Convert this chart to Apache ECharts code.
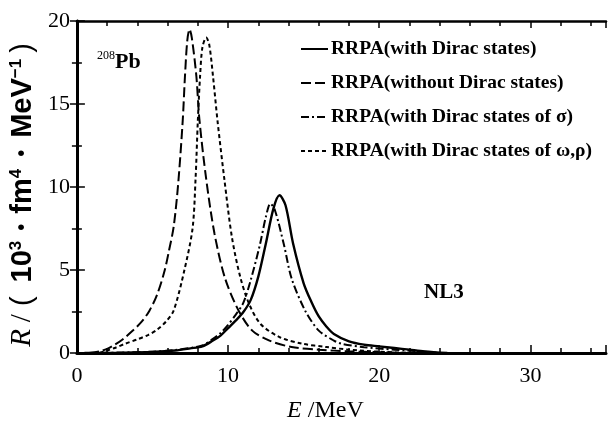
<!DOCTYPE html>
<html><head><meta charset="utf-8">
<script src="https://cdn.jsdelivr.net/npm/echarts@6/dist/echarts.min.js"></script>
<style>html,body{margin:0;padding:0;background:#fff}#c{width:610px;height:428px}</style>
</head><body><div id="c"></div>
<script>
// ---- data ----
const seriesNames = [
  'RRPA(with Dirac states)',
  'RRPA(without Dirac states)',
  'RRPA(with Dirac states of σ)',
  'RRPA(with Dirac states of ω,ρ)'
];
const withDiracE = [0.5, 3, 5, 6.5, 7.5, 8.3, 9, 9.5, 10, 10.5, 11, 11.5, 12, 12.5, 13, 13.4, 13.8, 14.3, 15, 15.5, 16, 16.5, 17, 18, 19, 20, 21, 22, 23, 24.5];
const withDiracR = [0, 0.02, 0.06, 0.15, 0.28, 0.4, 0.75, 1.05, 1.5, 1.95, 2.45, 3.2, 4.6, 6.6, 8.7, 9.5, 8.9, 6.6, 4.2, 3.1, 2.2, 1.6, 1.15, 0.7, 0.5, 0.4, 0.3, 0.2, 0.1, 0];
const withoutDiracE = [0.8, 1.5, 2, 2.5, 3, 3.7, 4.3, 4.8, 5.3, 5.8, 6.1, 6.4, 6.7, 7.0, 7.15, 7.3, 7.45, 7.6, 7.9, 8.1, 8.55, 9.1, 9.8, 10.7, 11.6, 12.7, 14.2, 16, 18, 20, 22];
const withoutDiracR = [0, 0.1, 0.25, 0.5, 0.8, 1.35, 1.9, 2.55, 3.5, 4.95, 6.2, 7.6, 10.2, 14.0, 16.7, 18.8, 19.5, 19.0, 16.7, 14.1, 10.5, 7.2, 4.5, 2.55, 1.35, 0.76, 0.36, 0.2, 0.1, 0.05, 0];
const sigmaE = [0.5, 3, 5, 6.5, 7.5, 8.3, 9, 9.5, 10, 10.5, 11, 11.5, 12.1, 12.5, 12.8, 13.1, 13.7, 14.2, 15.1, 16, 17, 17.5, 19, 21, 23, 24];
const sigmaR = [0, 0.03, 0.08, 0.18, 0.3, 0.45, 0.85, 1.2, 1.7, 2.3, 3.0, 4.4, 6.5, 8.2, 9.0, 8.6, 6.5, 4.5, 2.55, 1.35, 0.75, 0.56, 0.35, 0.2, 0.08, 0];
const omegaRhoE = [1.5, 2, 2.5, 3.2, 4, 4.7, 5.3, 5.9, 6.4, 7.1, 7.65, 7.85, 8.0, 8.15, 8.3, 8.55, 8.75, 9.0, 9.3, 9.75, 10.25, 10.8, 11.4, 12.15, 13.4, 14.9, 16.5, 18, 20, 22];
const omegaRhoR = [0, 0.15, 0.3, 0.56, 0.82, 1.08, 1.4, 1.9, 2.55, 4.95, 7.5, 10.5, 14.0, 16.7, 18.4, 19.0, 18.6, 16.7, 14.0, 10.5, 7.0, 4.6, 2.94, 1.75, 0.96, 0.56, 0.36, 0.2, 0.08, 0];
const xTickLabels = [0, 10, 20, 30];
const yTickLabels = [0, 5, 10, 15, 20];

// ---- chart ----
const pairs = (xs, ys) => xs.map((x, i) => [x, ys[i]]);
const SERIF = '"Liberation Serif", "Times New Roman", serif';
const SANS = '"Liberation Sans", Arial, sans-serif';
const chart = echarts.init(document.getElementById('c'), null, {renderer: 'canvas'});

const tickStyle = {color: '#000', width: 1.5};
const xBase = {type: 'value', min: 0, max: 35, splitLine: {show: false}};
const yBase = {type: 'value', min: 0, max: 20, interval: 5, splitLine: {show: false}};

const lineTypes = ['solid', [10, 4], [8, 3, 2, 3], [4, 3]];
const dataSets = [
  pairs(withDiracE, withDiracR),
  pairs(withoutDiracE, withoutDiracR),
  pairs(sigmaE, sigmaR),
  pairs(omegaRhoE, omegaRhoR)
];

const yn = {fontFamily: SANS, fontWeight: 'bold', fontSize: 29, color: '#000'};
const ysup = {fontFamily: SANS, fontWeight: 'bold', fontSize: 17, color: '#000', verticalAlign: 'top'};

chart.setOption({
  backgroundColor: '#fff',
  animation: false,
  grid: {left: 73, right: 4, top: 21, bottom: 72, containLabel: false},
  legend: {
    data: seriesNames,
    orient: 'vertical',
    left: 295, top: 34,
    itemWidth: 27, itemHeight: 10, itemGap: 14,
    itemStyle: {opacity: 0},
    textStyle: {fontFamily: SERIF, fontSize: 19.5, fontWeight: 'bold', color: '#000', lineHeight: 20, padding: [0, 0, 0, -2]}
  },
  xAxis: [
    Object.assign({}, xBase, {
      position: 'bottom', interval: 2,
      axisLine: {lineStyle: {color: '#000', width: 3}},
      axisTick: {inside: true, length: 5, lineStyle: tickStyle},
      axisLabel: {formatter: v => xTickLabels.includes(v) ? String(v) : '', fontFamily: SERIF, fontSize: 22, color: '#000', margin: 12},
      name: '{i|E}{n| /MeV}', nameLocation: 'middle', nameGap: 46,
      nameTextStyle: {padding: [0, 32, 0, 0], rich: {
        i: {fontFamily: SERIF, fontStyle: 'italic', fontSize: 24, color: '#000'},
        n: {fontFamily: SERIF, fontSize: 24, color: '#000'}
      }}
    }),
    Object.assign({}, xBase, {
      position: 'bottom', interval: 10,
      axisLine: {show: false},
      axisTick: {inside: true, length: 8, lineStyle: tickStyle},
      axisLabel: {show: false}
    }),
    Object.assign({}, xBase, {
      position: 'top', interval: 2,
      axisLine: {lineStyle: {color: '#000', width: 2.5}},
      axisTick: {inside: true, length: 5, lineStyle: tickStyle},
      axisLabel: {show: false}
    }),
    Object.assign({}, xBase, {
      position: 'top', interval: 10,
      axisLine: {show: false},
      axisTick: {inside: true, length: 7, lineStyle: tickStyle},
      axisLabel: {show: false}
    })
  ],
  yAxis: [
    Object.assign({}, yBase, {
      position: 'left',
      axisLine: {lineStyle: {color: '#000', width: 3}},
      axisTick: {inside: true, length: 8, lineStyle: tickStyle},
      minorTick: {show: true, splitNumber: 2, length: 5, lineStyle: tickStyle},
      axisLabel: {formatter: v => yTickLabels.includes(v) ? String(v) : '', fontFamily: SERIF, fontSize: 22, color: '#000', margin: 7},
      name: '{i|R}{sl|/}{p|(}{n|10}{s|3}{d1|•}{n|fm}{s|4}{d2|•}{n|MeV}{s|−1}{q|)}',
      nameLocation: 'middle', nameGap: 35,
      nameTextStyle: {padding: [0, 16, 0, 0], rich: {
        i: {fontFamily: SERIF, fontStyle: 'italic', fontSize: 29, color: '#000'},
        sl: {fontFamily: SERIF, fontSize: 29, color: '#000', padding: [0, 8, 0, 7]},
        p: Object.assign({}, yn, {fontWeight: 'normal', padding: [0, 14, 0, 0]}),
        q: Object.assign({}, yn, {fontWeight: 'normal', padding: [0, 0, 0, 6]}),
        n: yn,
        s: ysup,
        d1: Object.assign({}, yn, {fontSize: 20, padding: [0, 10, 0, 10]}),
        d2: Object.assign({}, yn, {fontSize: 20, padding: [0, 12, 0, 12]})
      }}
    }),
    Object.assign({}, yBase, {
      position: 'right',
      axisLine: {lineStyle: {color: '#000', width: 2.5}},
      axisTick: {inside: true, length: 7, lineStyle: tickStyle},
      minorTick: {show: true, splitNumber: 2, length: 5, lineStyle: tickStyle},
      axisLabel: {show: false}
    })
  ],
  graphic: [
    {type: 'text', left: 97, top: 50, style: {
      text: '{s|208}{b|Pb}',
      rich: {
        s: {fontFamily: SERIF, fontSize: 12, fill: '#000', verticalAlign: 'top', lineHeight: 24},
        b: {fontFamily: SERIF, fontSize: 22, fontWeight: 'bold', fill: '#000', lineHeight: 24}
      }
    }},
    {type: 'text', left: 424, top: 282, style: {text: 'NL3', font: 'bold 21px "Liberation Serif"', fill: '#000'}}
  ],
  series: seriesNames.map((name, k) => ({
    name, type: 'line', xAxisIndex: 0, yAxisIndex: 0,
    data: dataSets[k],
    showSymbol: false, symbol: 'none',
    smooth: 0.3,
    lineStyle: {color: '#000', width: k === 0 ? 2.4 : 2, type: lineTypes[k]},
    itemStyle: {color: '#000'}
  }))
});
</script></body></html>
